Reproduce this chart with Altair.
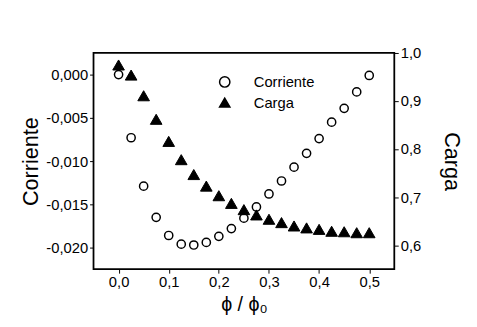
import altair as alt
import pandas as pd

phi = [0.0, 0.025, 0.05, 0.075, 0.1, 0.125, 0.15, 0.175, 0.2, 0.225, 0.25,
       0.275, 0.3, 0.325, 0.35, 0.375, 0.4, 0.425, 0.45, 0.475, 0.5]
corriente = [0.0000, -0.0073, -0.0129, -0.0165, -0.0186, -0.0196, -0.0197,
             -0.0194, -0.0187, -0.0178, -0.0166, -0.0153, -0.0138, -0.0123,
             -0.0107, -0.0091, -0.0074, -0.0055, -0.0039, -0.0020, -0.0001]
carga = [0.975, 0.954, 0.911, 0.862, 0.816, 0.778, 0.747, 0.723, 0.703, 0.687,
         0.674, 0.663, 0.654, 0.647, 0.640, 0.636, 0.633, 0.629, 0.628, 0.626, 0.626]

series = ["Corriente", "Carga"]
x_ticks = [0.0, 0.1, 0.2, 0.3, 0.4, 0.5]
left_ticks = [0.0, -0.005, -0.010, -0.015, -0.020]
right_ticks = [0.6, 0.7, 0.8, 0.9, 1.0]

df = pd.DataFrame({"phi": phi, "corriente": corriente, "carga": carga})

FONT = "Liberation Sans"

x_enc = alt.X(
    "phi:Q",
    scale=alt.Scale(domain=[-0.05, 0.55], nice=False, zero=False),
    axis=alt.Axis(
        values=x_ticks,
        labelExpr="replace(format(datum.value, '.1f'), '.', ',')",
        title="ϕ / ϕ₀",
        titleFontSize=20, titleFontWeight="normal", titleFont=FONT,
        titleY=42, titleBaseline="alphabetic",
        labelFontSize=15, labelFont=FONT, labelPadding=2,
        tickSize=4, grid=False, domain=False, labelColor="black", tickColor="black",
        titleColor="black",
    ),
)

shape_scale = alt.Scale(domain=series, range=["circle", "triangle-up"])
fill_scale = alt.Scale(domain=series, range=["white", "black"])
stroke_scale = alt.Scale(domain=series, range=["black", "black"])
legend = alt.Legend(
    title=None, orient="none", legendX=126, legendY=22,
    labelFont=FONT, labelFontSize=15, labelColor="black", labelOffset=22,
    symbolSize=110, symbolStrokeColor="black", symbolStrokeWidth=1.5,
    rowPadding=4, padding=0,
)

circ = (
    alt.Chart(df)
    .transform_calculate(serie="'Corriente'")
    .mark_point(filled=True, strokeWidth=1.5, size=70, opacity=1)
    .encode(
        x=x_enc,
        y=alt.Y(
            "corriente:Q",
            scale=alt.Scale(domain=[-0.0225, 0.0025], nice=False, zero=False),
            axis=alt.Axis(
                orient="left", values=left_ticks,
                labelExpr="replace(replace(format(datum.value, '.3f'), '.', ','), '\u2212', '-')",
                title="Corriente", titleFontSize=22, titleFontWeight="normal", titleFont=FONT,
                titleAngle=-90, titleX=-57, titleY=110, titleAlign="center",
                titleBaseline="alphabetic",
                labelFontSize=15, labelFont=FONT, labelPadding=2, tickSize=4,
                grid=False, domain=False, labelColor="black", tickColor="black",
                titleColor="black",
            ),
        ),
        shape=alt.Shape("serie:N", scale=shape_scale, legend=legend),
        fill=alt.Fill("serie:N", scale=fill_scale, legend=legend),
        stroke=alt.Stroke("serie:N", scale=stroke_scale, legend=legend),
    )
)

tri = (
    alt.Chart(df)
    .transform_calculate(serie="'Carga'")
    .mark_point(filled=True, strokeWidth=1, size=140, opacity=1)
    .encode(
        x=x_enc,
        y=alt.Y(
            "carga:Q",
            scale=alt.Scale(domain=[0.55, 1.0], nice=False, zero=False),
            axis=alt.Axis(
                orient="right", values=right_ticks,
                labelExpr="replace(format(datum.value, '.1f'), '.', ',')",
                title="Carga", titleFontSize=22, titleFontWeight="normal", titleFont=FONT,
                titleAngle=90, titleX=51, titleY=110, titleAlign="center",
                titleBaseline="alphabetic",
                labelFontSize=15, labelFont=FONT, labelPadding=2, tickSize=4,
                grid=False, domain=False, labelColor="black", tickColor="black",
                titleColor="black",
            ),
        ),
        shape=alt.Shape("serie:N", scale=shape_scale, legend=legend),
        fill=alt.Fill("serie:N", scale=fill_scale, legend=legend),
        stroke=alt.Stroke("serie:N", scale=stroke_scale, legend=legend),
    )
)

chart = (
    alt.layer(circ, tri)
    .resolve_scale(y="independent")
    .properties(
        width=306, height=220,
        autosize=alt.AutoSizeParams(type="none"),
        padding={"left": 87, "top": 43, "right": 76, "bottom": 55},
        background="white",
    )
    .configure_view(stroke="black", strokeWidth=1.8)
)

chart.save("out.html", embed_options={"renderer": "svg", "actions": False})
